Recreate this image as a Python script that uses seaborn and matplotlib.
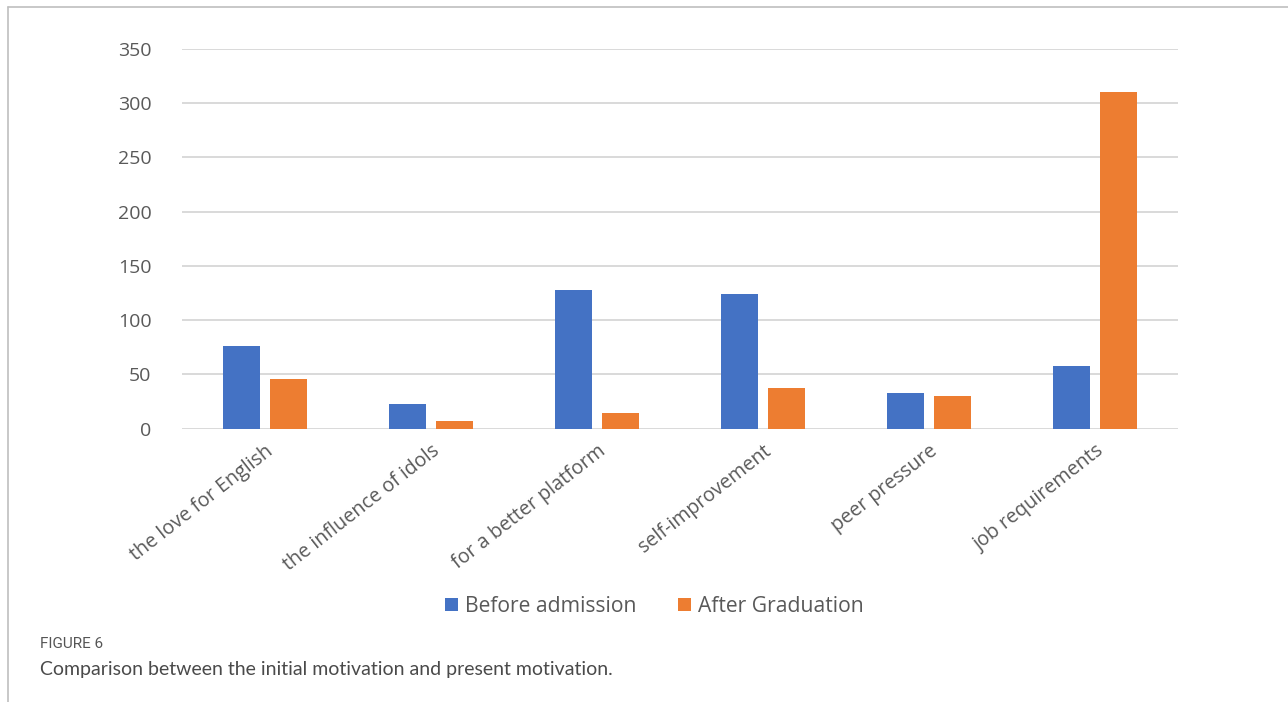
import matplotlib
matplotlib.use("Agg")
import matplotlib.pyplot as plt
from matplotlib.lines import Line2D
from matplotlib.patches import Patch
import pandas as pd
import seaborn as sns

# Motivation categories and response counts
categories = ["the love for English", "the influence of idols", "for a better platform",
              "self-improvement", "peer pressure", "job requirements"]
before_admission = [76, 23, 128, 124, 33, 58]
after_graduation = [46, 7, 14, 37, 30, 310]
series_names = ["Before admission", "After Graduation"]
y_ticks = [0, 50, 100, 150, 200, 250, 300, 350]

df = pd.DataFrame({
    "category": categories * 2,
    "count": before_admission + after_graduation,
    "period": [series_names[0]] * len(categories) + [series_names[1]] * len(categories),
})

sns.set_theme(style="white")
plt.rcParams["font.family"] = ["Open Sans", "DejaVu Sans"]

BLUE = "#4472C4"
ORANGE = "#ED7D31"
TEXT = "#595959"

fig = plt.figure(figsize=(12.88, 7.02), dpi=100)
ax = fig.add_axes([0.1413, 0.3896, 0.7733, 0.5406])

sns.barplot(data=df, x="category", y="count", hue="period", order=categories,
            hue_order=series_names, palette=[BLUE, ORANGE], width=0.566, gap=0.21,
            saturation=1, ax=ax, legend=False, linewidth=0, errorbar=None)

ax.set_xlim(-0.5, len(categories) - 0.5)
ax.set_ylim(0, 350)
ax.set_yticks(y_ticks)
ax.set_yticklabels([str(t) for t in y_ticks], fontsize=14, color=TEXT)
ax.yaxis.grid(True, color="#D9D9D9", linewidth=1.4)
ax.set_axisbelow(True)
for s in ax.spines.values():
    s.set_visible(False)
ax.tick_params(axis="y", length=0, pad=22)
ax.tick_params(axis="x", length=0, pad=9)
ax.set_xlabel("")
ax.set_ylabel("")
ax.set_xticks(range(len(categories)))
ax.set_xticklabels(categories, rotation=38, ha="right", rotation_mode="anchor",
                   fontsize=14.2, color=TEXT)

# Legend below the plot
handles = [Patch(facecolor=BLUE, edgecolor="none"), Patch(facecolor=ORANGE, edgecolor="none")]
fig.legend(handles, series_names, loc="center", bbox_to_anchor=(0.508, 0.136), ncol=2,
           frameon=False, fontsize=15.2, labelcolor=TEXT, handlelength=0.62,
           handleheight=0.62, handletextpad=0.3, columnspacing=2.0)

# Caption
fig.text(0.031, 0.083, "FIGURE 6", fontsize=11, color="#555555", family="Roboto",
         va="center", ha="left")
fig.text(0.031, 0.047, "Comparison between the initial motivation and present motivation.",
         fontsize=14, color="#4a4a4a", family="Lato", va="center", ha="left")

# Page frame lines
fig.add_artist(Line2D([0.0062, 0.0062], [0.0, 0.990], transform=fig.transFigure,
                      color="#BFBFBF", linewidth=1.2))
fig.add_artist(Line2D([0.0062, 1.0], [0.990, 0.990], transform=fig.transFigure,
                      color="#BFBFBF", linewidth=1.2))

fig.savefig("out.png", dpi=100, facecolor="white")
